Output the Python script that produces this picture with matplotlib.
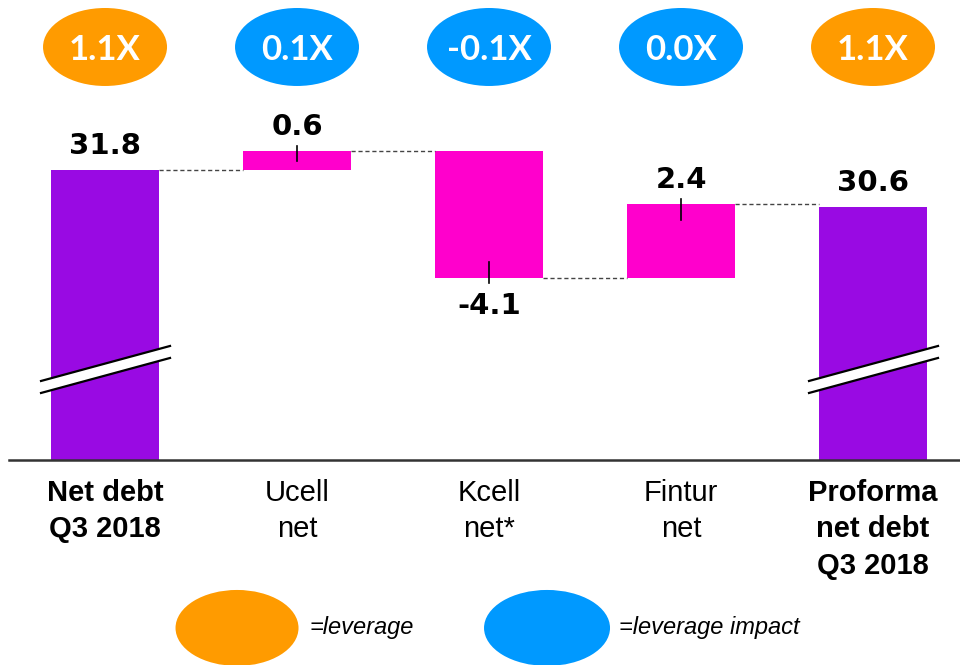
import numpy as np
import matplotlib
matplotlib.use("Agg")
import matplotlib.pyplot as plt
from matplotlib.patches import Ellipse, Polygon

# chart data
categories = ["Net debt\nQ3 2018", "Ucell\nnet", "Kcell\nnet*", "Fintur\nnet", "Proforma\nnet debt\nQ3 2018"]
bold_labels = [True, False, False, False, True]
start_value = 31.8
deltas = [0.6, -4.1, 2.4]
end_value = 30.6
value_labels = ["31.8", "0.6", "-4.1", "2.4", "30.6"]
leverage_labels = ["1.1X", "0.1X", "-0.1X", "0.0X", "1.1X"]
leverage_kind = ["leverage", "impact", "impact", "impact", "leverage"]
legend_labels = ["=leverage", "=leverage impact"]

PURPLE = "#990AE3"
MAGENTA = "#FF00CC"
ORANGE = "#FF9B00"
BLUE = "#0099FF"
oval_colors = {"leverage": ORANGE, "impact": BLUE}

# axis window (broken axis, bars start at BASE)
BASE = 22.44
PX_X = 1 / 192.0
PX_Y = 1 / 30.98
WIDTH = 0.5625


def main():
    fig = plt.figure(figsize=(9.6, 6.65), dpi=100)
    ax = fig.add_axes([0, 0, 1, 1])
    ax.set_xlim(-0.547, 4.453)
    ax.set_ylim(15.82, 37.29)
    ax.axis("off")

    x = np.arange(len(categories))

    # bars
    levels = []  # running level after each bar
    ax.bar(x[0], start_value - BASE, bottom=BASE, width=WIDTH, color=PURPLE)
    run = start_value
    levels.append(run)
    ends = [start_value]
    for i, d in enumerate(deltas):
        ax.bar(x[i + 1], abs(d), bottom=min(run, run + d), width=WIDTH, color=MAGENTA)
        run = run + d
        levels.append(run)
        ends.append(run)
    ax.bar(x[-1], end_value - BASE, bottom=BASE, width=WIDTH, color=PURPLE)
    ends.append(end_value)

    # dashed connectors
    for i in range(len(categories) - 1):
        ax.plot([x[i] + WIDTH / 2, x[i + 1] - WIDTH / 2], [levels[i], levels[i]],
                ls=(0, (3, 2)), color="#444444", lw=1)

    # little ticks on the delta bars
    run = start_value
    for i, d in enumerate(deltas):
        end = run + d
        sign = 1 if d > 0 else -1
        inward = min(16 * PX_Y, abs(d) / 2)
        ax.plot([x[i + 1], x[i + 1]], [end + sign * 5 * PX_Y, end - sign * inward],
                color="black", lw=1.2)
        run = end

    # value labels
    signs = [1] + [1 if d > 0 else -1 for d in deltas] + [1]
    for i in range(len(categories)):
        if signs[i] > 0:
            ax.annotate(value_labels[i], (x[i], ends[i]), xytext=(0, 11.5),
                        textcoords="offset points", ha="center", va="baseline",
                        fontsize=21, fontweight="bold", family="DejaVu Sans")
        else:
            ax.annotate(value_labels[i], (x[i], ends[i]), xytext=(0, -9.5),
                        textcoords="offset points", ha="center", va="top",
                        fontsize=21, fontweight="bold", family="DejaVu Sans")

    # leverage ovals on top
    oy = 37.29 - 47 * PX_Y
    for i in range(len(categories)):
        ax.add_patch(Ellipse((x[i], oy), 124 * PX_X, 78 * PX_Y,
                             color=oval_colors[leverage_kind[i]], lw=0))
        ax.text(x[i], oy - 13 * PX_Y, leverage_labels[i], ha="center", va="baseline",
                color="white", fontsize=25, fontweight="bold", family="Lato")

    # break marks on the total bars
    for i in [0, len(categories) - 1]:
        xl, xr = x[i] - 64 * PX_X, x[i] + 65 * PX_X
        y1l, y1r = 24.99, 26.12
        gap = 12 * PX_Y
        ax.add_patch(Polygon([(xl, y1l), (xr, y1r), (xr, y1r - gap), (xl, y1l - gap)],
                             closed=True, color="white", lw=0, zorder=3))
        ax.plot([xl, xr], [y1l, y1r], color="black", lw=1.6, zorder=4)
        ax.plot([xl, xr], [y1l - gap, y1r - gap], color="black", lw=1.6, zorder=4)

    # baseline
    ax.plot([-0.547 + 9 * PX_X, 4.453], [BASE, BASE], color="#333333", lw=1.8)

    # category labels
    for i, lab in enumerate(categories):
        ax.text(x[i], BASE - 19 * PX_Y, lab, ha="center", va="top", fontsize=21,
                fontweight="bold" if bold_labels[i] else "normal",
                family="Liberation Sans", linespacing=1.38)

    # legend
    ly = 31.8 - (628 - 170) * PX_Y
    ax.add_patch(Ellipse(((237 - 105) * PX_X, ly), 123 * PX_X, 76 * PX_Y, color=ORANGE, lw=0))
    ax.add_patch(Ellipse(((547 - 105) * PX_X, ly), 126 * PX_X, 76 * PX_Y, color=BLUE, lw=0))
    ax.text((309 - 105) * PX_X, ly, legend_labels[0], ha="left", va="center",
            fontsize=17, style="italic", family="Liberation Sans")
    ax.text((619 - 105) * PX_X, ly, legend_labels[1], ha="left", va="center",
            fontsize=17, style="italic", family="Liberation Sans")

    fig.savefig("out.png", dpi=100)


if __name__ == "__main__":
    main()
